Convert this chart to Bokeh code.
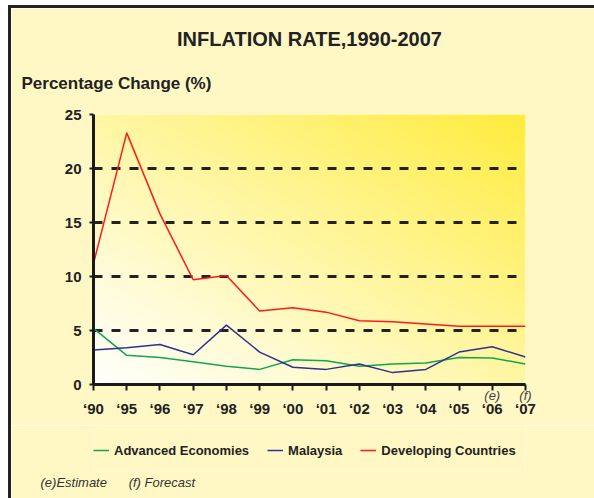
import numpy as np
from bokeh.plotting import figure
from bokeh.layouts import column
from bokeh.models import Range1d, FixedTicker, LinearAxis, Title, Legend, LegendItem
from bokeh.embed import file_html
from bokeh.resources import INLINE

years = ["\u201890", "\u201895", "\u201896", "\u201897", "\u201898", "\u201899", "\u201800",
         "\u201801", "\u201802", "\u201803", "\u201804", "\u201805", "\u201806", "\u201807"]
year_notes = ["", "", "", "", "", "", "", "", "", "", "", "", "(e)", "(f)"]
advanced = [5.2, 2.7, 2.5, 2.1, 1.7, 1.4, 2.3, 2.2, 1.7, 1.9, 2.0, 2.5, 2.45, 1.9]
malaysia = [3.2, 3.4, 3.7, 2.75, 5.5, 3.0, 1.6, 1.4, 1.9, 1.1, 1.4, 3.0, 3.5, 2.55]
developing = [11.2, 23.3, 15.8, 9.7, 10.1, 6.8, 7.1, 6.7, 5.9, 5.8, 5.6, 5.4, 5.4, 5.4]
y_ticks = [0, 5, 10, 15, 20, 25]
series_names = ["Advanced Economies", "Malaysia", "Developing Countries"]
title_text = "INFLATION RATE,1990-2007"
ylabel_text = "Percentage Change (%)"
footnote_text = "(e)Estimate" + "\u00a0" * 6 + "(f)\u00a0Forecast"

FONT = "Liberation Sans"
BG = "#FFF8C5"
colors = ["#10A650", "#2E3192", "#FF1A1A"]

xi = list(range(len(years)))
xmax = len(years) - 1
ymax = y_ticks[-1]

W_ALL = 583
H_BOT = 73

p = figure(frame_width=432, frame_height=270, output_backend="svg", toolbar_location=None,
           title=None, x_range=Range1d(0, xmax), y_range=Range1d(0, ymax),
           min_border_left=82, min_border_right=69, min_border_top=106, min_border_bottom=41)
p.background_fill_color = BG
p.border_fill_color = BG
p.outline_line_color = None

# gradient background of the plot area (style only)
H, W = 270, 432
jj, ii = np.mgrid[0:H, 0:W]
t = ((ii / (W - 1)) + (jj / (H - 1))) / 2.0
t = t ** 1.15
c0 = np.array([255, 255, 250])
c1 = np.array([255, 236, 60])
r = (c0[0] + (c1[0] - c0[0]) * t).astype(np.uint32)
g = (c0[1] + (c1[1] - c0[1]) * t).astype(np.uint32)
b = (c0[2] + (c1[2] - c0[2]) * t).astype(np.uint32)
img = (255 << 24) | (b << 16) | (g << 8) | r
p.image_rgba(image=[img.astype(np.uint32)], x=0, y=0, dw=xmax, dh=ymax, level="image")

# grid
p.xgrid.visible = False
p.ygrid.ticker = FixedTicker(ticks=y_ticks)
p.ygrid.grid_line_color = "#222222"
p.ygrid.grid_line_width = 3
p.ygrid.grid_line_dash = "9 9"

# axes
p.yaxis.ticker = FixedTicker(ticks=y_ticks)
xa = p.xaxis[0]
xa.ticker = FixedTicker(ticks=xi)
xa.major_label_overrides = {i: s for i, s in enumerate(year_notes)}
for ax in (xa, p.yaxis[0]):
    ax.axis_line_width = 3
    ax.axis_line_color = "#1a1a1a"
    ax.major_tick_line_width = 2
    ax.major_tick_line_color = "#1a1a1a"
    ax.major_tick_in = 0
    ax.minor_tick_line_color = None
    ax.major_label_text_font = FONT
p.yaxis.major_label_text_font_style = "bold"
p.yaxis.major_label_text_font_size = "15px"
p.yaxis.major_label_text_color = "#222222"
p.yaxis.major_tick_out = 4
p.yaxis.major_label_standoff = 8
xa.major_tick_out = 6
xa.major_label_standoff = -3
xa.major_label_text_font_style = "italic"
xa.major_label_text_font_size = "13px"
xa.major_label_text_color = "#444444"

xa2 = LinearAxis(ticker=FixedTicker(ticks=xi),
                 major_label_overrides={i: s for i, s in enumerate(years)},
                 axis_line_color=None, major_tick_line_color=None, minor_tick_line_color=None,
                 major_tick_in=0, major_tick_out=0, major_label_standoff=-6,
                 major_label_text_font=FONT, major_label_text_font_style="bold",
                 major_label_text_font_size="15px", major_label_text_color="#222222")
p.add_layout(xa2, "below")

for vals, col in zip([advanced, malaysia, developing], colors):
    p.line(xi, vals, line_color=col, line_width=1.5)

p.add_layout(Title(text=ylabel_text, align="left", offset=-72, text_font=FONT,
                   text_font_style="bold", text_font_size="17px", text_color="#222222",
                   standoff=44), "above")
p.add_layout(Title(text=title_text, align="center", offset=0, text_font=FONT,
                   text_font_style="bold", text_font_size="20px", text_color="#222222",
                   standoff=0), "above")

# bottom strip: legend and footnote
q = figure(width=W_ALL, height=H_BOT, output_backend="svg", toolbar_location=None,
           title=None, x_range=Range1d(0, 1), y_range=Range1d(0, 1),
           x_axis_location=None, y_axis_location=None,
           min_border_left=82, min_border_right=69, min_border_top=0, min_border_bottom=28)
q.background_fill_color = BG
q.border_fill_color = BG
q.outline_line_color = None
q.xgrid.visible = False
q.ygrid.visible = False
q.extra_y_ranges = {"hidden": Range1d(1000, 1001)}

items = []
for vals, name, col in zip([advanced, malaysia, developing], series_names, colors):
    rr = q.line(xi, vals, line_color=col, line_width=1.5, y_range_name="hidden")
    items.append(LegendItem(label=name, renderers=[rr]))

lg = Legend(items=items, orientation="horizontal", location=(0, 12.5),
            background_fill_alpha=0, border_line_color=None, padding=0, margin=0,
            spacing=18, glyph_width=16, glyph_height=14, label_height=14, label_standoff=5,
            label_text_font=FONT, label_text_font_style="bold", label_text_font_size="13px",
            label_text_color="#222222")
q.add_layout(lg, "center")

q.add_layout(Title(text=footnote_text, align="left", offset=-53, text_font=FONT,
                   text_font_style="italic", text_font_size="13px", text_color="#333333",
                   standoff=4), "below")

layout = column(p, q, spacing=0)
layout.styles = {"margin-left": "8px", "margin-top": "5px",
                 "border-top": "3px solid #222", "border-left": "3px solid #222"}

open("out.html", "w").write(file_html(layout, INLINE))
